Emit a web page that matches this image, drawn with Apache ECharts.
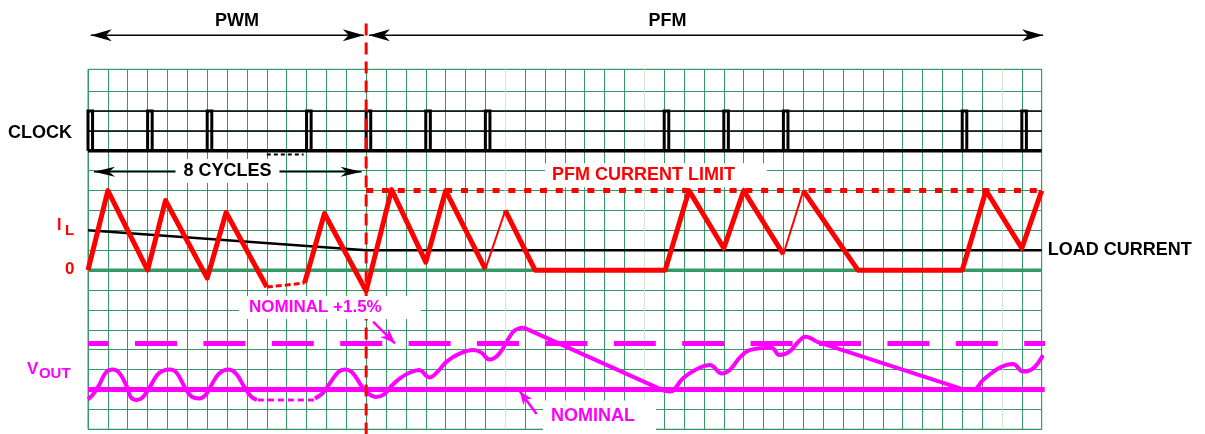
<!DOCTYPE html>
<html>
<head>
<meta charset="utf-8">
<script src="https://cdn.jsdelivr.net/npm/echarts@6/dist/echarts.min.js"></script>
<style>
html, body { margin: 0; padding: 0; background: #fff; }
#chart { width: 1205px; height: 434px; }
</style>
</head>
<body>
<div id="chart"></div>
<script>
// all values are in grid cells (x: 0..48 columns, y: 0 at the bottom line)
const clockPulseX = [0, 3, 6, 11, 14, 17, 20, 29, 32, 35, 44, 47];
const clockLow = 14;
const clockHigh = 16;
const clockRefY = [15, 16];
const skippedClock = [[9, 13.82], [10.85, 13.82]];
const loadCurrent = [[0, 10], [14, 9], [48, 9]];
const zeroLevel = 8;
const pfmLimit = 12;
const modeBoundary = 14;

// inductor current, thick and thin pieces
const ilThick = [
  [[0, 8], [1, 12], [3, 8], [3.9, 11.5], [6, 7.6], [6.95, 10.9], [9, 7.15]],
  [[10.9, 7.35], [11.9, 10.85], [14, 6.95], [15.28, 12.05], [17, 8.4], [18, 12], [20, 8.05]],
  [[21, 11], [22.5, 8], [29.05, 8], [30.25, 12], [32, 9.1], [33, 12], [35, 8.8]],
  [[36, 12], [38.75, 8], [44, 8], [45.2, 12], [47, 9.1], [48, 12]]
];
const ilThin = [
  [[20, 8.05], [21, 11]],
  [[35, 8.8], [36, 12]]
];
const ilSkipped = [[9, 7.15], [10.9, 7.35]];

// output voltage
const voutNominal = 2;
const voutUpper = 4.31;
const voutRipplePwm = [[0, 1.5], [0.25, 1.75], [0.55, 2.2], [0.9, 2.85], [1.23, 3.0], [1.56, 2.85],
  [1.95, 2.15], [2.15, 1.62], [2.45, 1.47], [2.75, 1.6], [3.1, 2.1], [3.5, 2.75], [3.8, 2.95],
  [4.13, 3.0], [4.45, 2.85], [4.85, 2.15], [5.2, 1.65], [5.6, 1.55], [5.9, 1.7], [6.2, 2.2],
  [6.6, 2.8], [7.06, 3.0], [7.45, 2.8], [7.85, 2.15], [8.2, 1.65], [8.5, 1.47]];
const voutSkipped = [[8.55, 1.47], [11.4, 1.47]];
const voutRipple2 = [[11.42, 1.55], [11.8, 1.8], [12.2, 2.35], [12.6, 2.88], [12.93, 3.0], [13.3, 2.85],
  [13.75, 2.2], [14.1, 1.8], [14.5, 1.62], [14.9, 1.75], [15.3, 2.2], [15.7, 2.56], [16.2, 2.85],
  [16.65, 2.98], [17.2, 2.6], [17.6, 2.9], [18.05, 3.4], [18.7, 3.8], [19.4, 3.98], [19.8, 3.85],
  [20.2, 3.5], [20.7, 3.8], [21.4, 4.9], [21.9, 5.12]];
const voutDecay1 = [[21.9, 5.12], [28.95, 1.95]];
const voutRipple3 = [[28.95, 1.95], [29.3, 1.9], [29.95, 2.56], [30.6, 3.0], [31.3, 3.23], [31.9, 2.8],
  [32.3, 2.98], [32.8, 3.6], [33.3, 3.98], [34.4, 4.1], [34.8, 3.73], [35.3, 3.9], [35.8, 4.45],
  [36.1, 4.65], [36.66, 4.4]];
const voutDecay2 = [[36.66, 4.4], [44.05, 2.0]];
const voutRipple4 = [[44.05, 2.0], [44.55, 1.97], [45.05, 2.47], [45.9, 3.1], [46.56, 3.28], [47.06, 2.9],
  [47.57, 3.06], [48.07, 3.73]];

const GREEN = '#339966';
const PALE = '#cde7d8';
const RED = '#ff0000';
const MAG = '#ff00ff';
const FONT = '"Liberation Sans", Arial, sans-serif';

const chart = echarts.init(document.getElementById('chart'));

function line(data, color, width, extra) {
  return Object.assign({
    type: 'line',
    data: data,
    showSymbol: false,
    symbol: 'none',
    clip: false,
    silent: true,
    animation: false,
    lineStyle: { color: color, width: width, join: 'round', cap: 'butt' }
  }, extra || {});
}

const series = [];
// black reference levels of the clock trace
clockRefY.forEach(function (y) {
  series.push(line([[0, y], [48, y]], '#000', 1.5));
});
series.push(line([[0, clockLow], [48, clockLow]], '#000', 3.5));
series.push(line(skippedClock, '#000', 2, { lineStyle: { color: '#000', width: 2, type: [4, 3] } }));
clockPulseX.forEach(function (x) {
  series.push(line([[x, clockLow], [x, clockHigh], [x + 0.23, clockHigh], [x + 0.23, clockLow]], '#000', 3,
    { lineStyle: { color: '#000', width: 3, join: 'miter' } }));
});
// zero current and load current
series.push(line([[0, zeroLevel], [48, zeroLevel]], GREEN, 3.5));
series.push(line(loadCurrent, '#000', 2.5));
// PFM current limit
series.push(line([[modeBoundary, pfmLimit], [48, pfmLimit]], RED, 5,
  { lineStyle: { color: RED, width: 5, type: [7, 8.8] } }));
// inductor current
ilThick.forEach(function (d) { series.push(line(d, RED, 5)); });
ilThin.forEach(function (d) { series.push(line(d, RED, 2)); });
series.push(line(ilSkipped, RED, 3, { lineStyle: { color: RED, width: 3, type: [6, 3] } }));
// output voltage
series.push(line([[0, voutNominal], [48.15, voutNominal]], MAG, 5));
series.push(line([[0, voutUpper], [48.25, voutUpper]], MAG, 5,
  { lineStyle: { color: MAG, width: 5, type: [42, 26.4], dashOffset: 21.4 } }));
[voutRipplePwm, voutRipple2, voutRipple3, voutRipple4].forEach(function (d) {
  series.push(line(d, MAG, 4, { smooth: 0.4 }));
});
[voutDecay1, voutDecay2].forEach(function (d) { series.push(line(d, MAG, 4)); });
series.push(line(voutSkipped, MAG, 3, { lineStyle: { color: MAG, width: 3, type: [6, 4] } }));
// PWM / PFM boundary
series.push(line([[modeBoundary, 20.4], [modeBoundary, -0.3]], RED, 3,
  { lineStyle: { color: RED, width: 3, type: [12, 7] } }));

const xLineColors = [];
for (let i = 0; i <= 48; i++) xLineColors.push([21, 28, 46].indexOf(i) >= 0 ? PALE : GREEN);
const yLineColors = [];
for (let i = 0; i <= 19; i++) yLineColors.push(i === 18 ? 'rgba(0,0,0,0)' : GREEN);

chart.setOption({
  animation: false,
  backgroundColor: '#fff',
  grid: { left: 88, right: 163.3, top: 69.3, bottom: 4.8, show: true, borderColor: GREEN, borderWidth: 1 },
  xAxis: {
    type: 'value', min: 0, max: 48, interval: 1,
    axisLine: { show: false }, axisTick: { show: false }, axisLabel: { show: false },
    splitLine: { show: true, lineStyle: { color: xLineColors, width: 1 } }
  },
  yAxis: {
    type: 'value', min: 0, max: 18.1, interval: 1,
    axisLine: { show: false }, axisTick: { show: false }, axisLabel: { show: false },
    splitLine: { show: true, lineStyle: { color: yLineColors, width: 1 } }
  },
  series: series
});

function P(x, y) { return chart.convertToPixel({ gridIndex: 0 }, [x, y]); }

function text(str, at, size, color, align, extra) {
  const p = P(at[0], at[1]);
  return {
    type: 'text', x: p[0], y: p[1], z: 100, silent: true,
    style: Object.assign({
      text: str, font: 'bold ' + size + 'px ' + FONT, fill: color,
      align: align, textAlign: align, verticalAlign: 'middle', textVerticalAlign: 'middle'
    }, extra || {})
  };
}

function arrow(from, to, color, width, headLen, headWid, both) {
  const a = P(from[0], from[1]);
  const b = P(to[0], to[1]);
  const out = [{
    type: 'line', z: 99, silent: true,
    shape: { x1: a[0], y1: a[1], x2: b[0], y2: b[1] },
    style: { stroke: color, lineWidth: width }
  }];
  function head(tip, back) {
    const dx = tip[0] - back[0], dy = tip[1] - back[1];
    const d = Math.sqrt(dx * dx + dy * dy);
    const ux = dx / d, uy = dy / d, nx = -uy, ny = ux;
    const bx = tip[0] - ux * headLen, by = tip[1] - uy * headLen;
    const mx = tip[0] - ux * headLen * 0.72, my = tip[1] - uy * headLen * 0.72;
    out.push({
      type: 'polygon', z: 100, silent: true,
      shape: { points: [tip, [bx + nx * headWid / 2, by + ny * headWid / 2], [mx, my], [bx - nx * headWid / 2, by - ny * headWid / 2]] },
      style: { fill: color }
    });
  }
  head(b, a);
  if (both) head(a, b);
  return out;
}

let g = [];
// mode arrows at the top
g = g.concat(arrow([0.14, 19.81], [13.88, 19.81], '#000', 1.5, 21, 12, true));
g = g.concat(arrow([14.14, 19.81], [48.07, 19.81], '#000', 1.5, 21, 12, true));
g.push(text('PWM', [7.5, 20.53], 18, '#000', 'center'));
g.push(text('PFM', [29.16, 20.53], 18, '#000', 'center'));
// clock
g.push(text('CLOCK', [-4.03, 14.88], 18, '#000', 'left'));
g = g.concat(arrow([0.3, 12.95], [13.77, 12.95], '#000', 1.5, 21, 10, true));
g.push(text('8 CYCLES', [7.02, 12.98], 18, '#000', 'center', { backgroundColor: '#fff', padding: [3, 8, 3, 8] }));
// current
g.push(text('I', [-1.56, 10.22], 16, RED, 'left'));
g.push(text('L', [-1.16, 9.97], 15, RED, 'left'));
g.push(text('0', [-1.16, 8.03], 17, RED, 'left'));
g.push(text('LOAD CURRENT', [48.31, 9.0], 18, '#000', 'left'));
g.push(text('PFM CURRENT LIMIT', [23.0, 12.77], 18, RED, 'left', { backgroundColor: '#fff', padding: [3, 32, 3, 7] }));
// voltage
g.push(text('V', [-3.07, 3.03], 17, MAG, 'left'));
g.push(text('OUT', [-2.47, 2.78], 15, MAG, 'left'));
g.push(text('NOMINAL +1.5%', [7.6, 6.12], 17, MAG, 'left', { backgroundColor: '#fff', padding: [3, 39, 3, 10] }));
g = g.concat(arrow([14.35, 5.41], [15.45, 4.32], MAG, 2.5, 15, 12, false));
g.push(text('NOMINAL', [22.9, 0.66], 18, MAG, 'left', { backgroundColor: '#fff', padding: [6, 21, 7, 8] }));
g = g.concat(arrow([22.58, 0.76], [21.74, 1.89], MAG, 2.5, 13, 11, false));

chart.setOption({ graphic: g });
</script>
</body>
</html>
